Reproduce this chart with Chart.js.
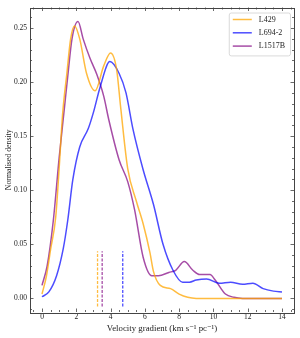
<!DOCTYPE html>
<html>
<head>
<meta charset="utf-8">
<script src="https://cdn.jsdelivr.net/npm/chart.js@4"></script>
<style>
  html, body { margin: 0; padding: 0; background: #fff; }
  #wrap { width: 300px; height: 338px; }
</style>
</head>
<body>
<div id="wrap"><canvas id="grafica"></canvas></div>
<script>
// datos
var seriesNames = ['L429', 'L694-2', 'L1517B'];
var seriesColors = ['rgba(255, 165, 0, 0.75)', 'rgba(0, 0, 255, 0.7)', 'rgba(128, 0, 128, 0.7)'];

var l429X = [0, 0.25, 0.5, 0.8, 1.0, 1.2, 1.45, 1.67, 1.9, 2.2, 2.6, 3.1, 3.6, 4.0, 4.35, 4.6, 5.0, 5.5, 5.9, 6.3, 6.5, 6.9, 7.5, 8.0, 8.5, 9.0, 10, 11, 12, 13, 14];
var l429Y = [0.004, 0.02, 0.045, 0.075, 0.12, 0.17, 0.208, 0.24, 0.252, 0.24, 0.208, 0.192, 0.215, 0.227, 0.212, 0.175, 0.12, 0.09, 0.069, 0.042, 0.025, 0.012, 0.009, 0.004, 0.001, 0, 0, 0, 0, 0, 0];

var l694X = [0, 0.4, 0.85, 1.24, 1.5, 1.8, 2.2, 2.7, 3.0, 3.4, 3.96, 4.5, 4.9, 5.3, 5.9, 6.5, 7.06, 7.64, 8.2, 8.6, 9.0, 9.6, 10.35, 11.0, 11.7, 12.3, 12.9, 13.5, 14];
var l694Y = [0.0015, 0.006, 0.021, 0.046, 0.072, 0.11, 0.14, 0.157, 0.172, 0.196, 0.219, 0.208, 0.19, 0.157, 0.119, 0.087, 0.05, 0.026, 0.015, 0.015, 0.017, 0.018, 0.014, 0.015, 0.013, 0.014, 0.009, 0.0067, 0.006];

var l1517bX = [0, 0.3, 0.66, 1.0, 1.3, 1.5, 1.75, 2.1, 2.4, 2.8, 3.2, 3.6, 3.9, 4.5, 5.0, 5.4, 5.9, 6.4, 6.8, 7.4, 7.8, 8.3, 8.8, 9.2, 9.8, 10.1, 10.7, 11.2, 11.7, 12.5, 13, 14];
var l1517bY = [0.012, 0.03, 0.072, 0.13, 0.175, 0.205, 0.24, 0.256, 0.24, 0.222, 0.207, 0.187, 0.165, 0.128, 0.108, 0.082, 0.038, 0.021, 0.021, 0.024, 0.026, 0.034, 0.026, 0.022, 0.022, 0.017, 0.004, 0.001, 0, 0, 0, 0];

// medianas (lineas discontinuas) y su extension vertical
var medianas = [3.24, 4.71, 3.51];
var medianaY = [-0.0075, 0.0435];

var xTicks = [0, 2, 4, 6, 8, 10, 12, 14];
var yTicks = [0.00, 0.05, 0.10, 0.15, 0.20, 0.25];

var serif = "'Liberation Serif', 'DejaVu Serif', serif";

function puntos(xs, ys) {
    return xs.map(function (x, i) { return { x: x, y: ys[i] }; });
}

var curvas = [puntos(l429X, l429Y), puntos(l694X, l694Y), puntos(l1517bX, l1517bY)];

var datasets = [];
curvas.forEach(function (c, i) {
    datasets.push({
        label: seriesNames[i],
        data: c,
        borderColor: seriesColors[i],
        borderWidth: 1.5,
        pointRadius: 0,
        fill: false,
        cubicInterpolationMode: 'monotone'
    });
});
medianas.forEach(function (m, i) {
    datasets.push({
        label: '_med' + i,
        data: [{ x: m, y: medianaY[0] }, { x: m, y: medianaY[1] }],
        borderColor: seriesColors[i],
        borderWidth: 1.3,
        borderDash: [3, 1.5],
        pointRadius: 0,
        fill: false
    });
});

// ticks hacia dentro en los cuatro lados, marco y leyenda
var marcoPlugin = {
    id: 'marco',
    afterDatasetsDraw: function (chart) {
        var ctx = chart.ctx, a = chart.chartArea;
        var sx = chart.scales.x, sy = chart.scales.y;
        ctx.save();
        ctx.strokeStyle = '#444';
        ctx.lineWidth = 0.8;
        function tick(x1, y1, x2, y2) {
            ctx.beginPath(); ctx.moveTo(x1, y1); ctx.lineTo(x2, y2); ctx.stroke();
        }
        // x
        for (var v = Math.ceil(sx.min / 0.5) * 0.5; v <= sx.max; v += 0.5) {
            var px = Math.round(sx.getPixelForValue(v)) + 0.5;
            var len = (Math.abs(v / 2 - Math.round(v / 2)) < 1e-6) ? 3.5 : 2;
            tick(px, a.bottom, px, a.bottom - len);
            tick(px, a.top, px, a.top + len);
        }
        // y
        for (var k = Math.ceil(sy.min / 0.01); k * 0.01 <= sy.max + 1e-9; k++) {
            var py = Math.round(sy.getPixelForValue(k * 0.01)) + 0.5;
            var leny = (k % 5 === 0) ? 3.5 : 2;
            tick(a.left, py, a.left + leny, py);
            tick(a.right, py, a.right - leny, py);
        }
        ctx.lineWidth = 1;
        ctx.strokeRect(Math.round(a.left) + 0.5, Math.round(a.top) + 0.5, Math.round(a.right - a.left), Math.round(a.bottom - a.top));

        // leyenda
        ctx.font = '8px ' + serif;
        var anchoTxt = 0;
        seriesNames.forEach(function (n) { anchoTxt = Math.max(anchoTxt, ctx.measureText(n).width); });
        var fila = 13.3;
        var w = 4 + 19 + 7 + anchoTxt + 5;
        var h = fila * seriesNames.length + 3;
        var bx = a.right - 4 - w, by = a.top + 5;
        ctx.fillStyle = 'rgba(255,255,255,0.8)';
        ctx.strokeStyle = '#d0d0d0';
        ctx.lineWidth = 0.8;
        ctx.beginPath();
        ctx.roundRect(bx + 0.5, by + 0.5, w, h, 2);
        ctx.fill(); ctx.stroke();
        ctx.textBaseline = 'middle';
        seriesNames.forEach(function (n, i) {
            var yy = by + 7 + i * fila;
            ctx.strokeStyle = seriesColors[i];
            ctx.lineWidth = 1.5;
            tick(bx + 4, yy, bx + 23, yy);
            ctx.fillStyle = '#222';
            ctx.fillText(n, bx + 30, yy);
        });
        ctx.restore();
    }
};

function inicializarGrafica() {
    var ctx = document.getElementById('grafica').getContext('2d');
    new Chart(ctx, {
        type: 'line',
        data: { datasets: datasets },
        options: {
            responsive: true,
            maintainAspectRatio: false,
            animation: false,
            layout: { padding: { top: 5, right: 6, left: 0, bottom: 0 } },
            plugins: {
                legend: { display: false },
                tooltip: { enabled: false }
            },
            scales: {
                x: {
                    type: 'linear',
                    min: -0.7,
                    max: 14.7,
                    afterBuildTicks: function (s) { s.ticks = xTicks.map(function (v) { return { value: v }; }); },
                    afterFit: function (s) { s.height = 26; },
                    grid: { display: false, drawTicks: false },
                    border: { display: false },
                    ticks: {
                        padding: 1,
                        color: '#222',
                        font: { family: serif, size: 7.5 },
                        maxRotation: 0,
                        callback: function (v) { return v; }
                    },
                    title: {
                        display: true,
                        text: 'Velocity gradient (km s\u207B\u00B9 pc\u207B\u00B9)',
                        color: '#222',
                        font: { family: serif, size: 8.8 },
                        padding: { top: 0, bottom: 4 }
                    }
                },
                y: {
                    min: -0.0126,
                    max: 0.269,
                    afterBuildTicks: function (s) { s.ticks = yTicks.map(function (v) { return { value: v }; }); },
                    afterFit: function (s) { s.width = 30; },
                    grid: { display: false, drawTicks: false },
                    border: { display: false },
                    ticks: {
                        padding: 3,
                        color: '#222',
                        font: { family: serif, size: 7.5 },
                        callback: function (v) { return v.toFixed(2); }
                    },
                    title: {
                        display: true,
                        text: 'Normalised density',
                        color: '#222',
                        font: { family: serif, size: 7.8 },
                        padding: { top: 4, bottom: 0 }
                    }
                }
            }
        },
        plugins: [marcoPlugin]
    });
}

inicializarGrafica();
</script>
</body>
</html>
